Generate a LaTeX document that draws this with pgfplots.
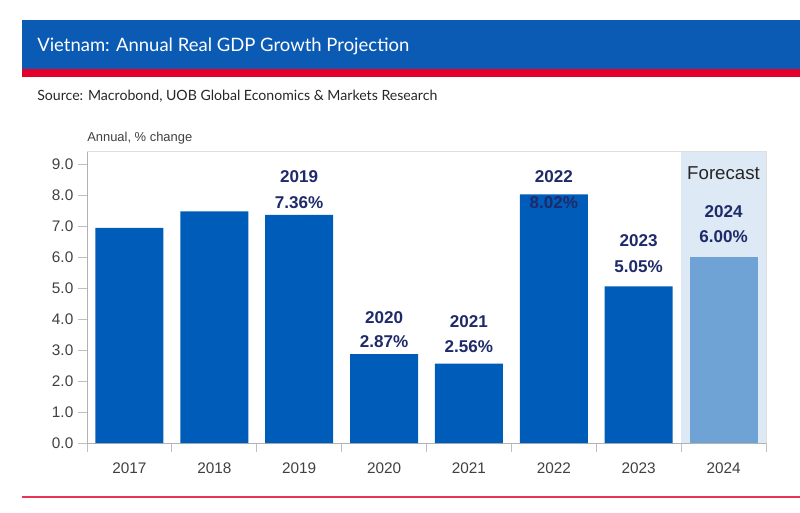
\documentclass[border=0pt]{standalone}
\usepackage{pgfplots}
\pgfplotsset{compat=1.18}
\usepackage{fontspec}
\setmainfont{Liberation Sans}
\newfontfamily\titlefont{Lato}
\definecolor{hdrblue}{HTML}{0B5BB5}
\definecolor{uobred}{HTML}{E4002B}
\definecolor{barblue}{HTML}{005CB9}
\definecolor{lightbar}{HTML}{6FA3D6}
\definecolor{shadeblue}{HTML}{DDE9F5}
\definecolor{navy}{HTML}{1E2A6A}
\definecolor{ticktext}{HTML}{404040}
\begin{document}
\begin{tikzpicture}[x=0.75pt,y=0.75pt]
\path[use as bounding box] (0,0) rectangle (800,512);
% header band
\fill[hdrblue] (22,492) rectangle (800,443);
\fill[uobred] (22,443) rectangle (800,435);
\node[anchor=west,text=white,inner sep=0] at (37,466) {\resizebox{279pt}{!}{\titlefont Vietnam: Annual Real GDP Growth Projection}};
\node[anchor=west,text=black!85,inner sep=0] at (37,416) {\resizebox{300pt}{!}{\titlefont Source: Macrobond, UOB Global Economics \& Markets Research}};
\draw[uobred!80,line width=1.5pt] (22,15) -- (800,15);
\node[anchor=west,inner sep=0,text=ticktext] at (87,374) {\fontsize{9.7}{11}\selectfont Annual, \% change};
\begin{axis}[
  at={(65.25pt,51.75pt)}, anchor=south west,
  scale only axis, width=509.25pt, height=219pt,
  xmin=-0.5, xmax=7.5, ymin=0, ymax=9.42,
  axis x line*=bottom, axis y line*=left,
  axis line style={draw=gray!60},
  tick style={draw=gray!50, line width=0.6pt},
  tick align=outside,
  major tick length=6.75pt,
  ytick={0,1,...,9},
  yticklabel style={/pgf/number format/.cd, fixed, fixed zerofill, precision=1, assume math mode=true},
  xtick={-0.5,0.5,...,7.5},
  xticklabels={},
  extra x ticks={0,1,2,3,4,5,6,7},
  extra x tick labels={2017,2018,2019,2020,2021,2022,2023,2024},
  extra x tick style={major tick length=0pt, xticklabel style={yshift=-11pt}},
  ticklabel style={font=\fontsize{11.5}{13}\selectfont, text=ticktext},
  clip=false,
]
\fill[shadeblue] (axis cs:6.5,0) rectangle (axis cs:7.5,9.42);
\draw[gray!25] (rel axis cs:0,1) -- (rel axis cs:1,1) -- (rel axis cs:1,0);
\addplot[ybar, bar width=51pt, bar shift=0pt, fill=barblue, draw=none]
  coordinates {(0,6.94) (1,7.47) (2,7.36) (3,2.87) (4,2.56) (5,8.02) (6,5.05)};
\addplot[ybar, bar width=51pt, bar shift=0pt, fill=lightbar, draw=none]
  coordinates {(7,6.00)};
\tikzset{lbl/.style={text=navy, font=\bfseries\fontsize{12.8}{14}\selectfont, inner sep=0}}
\node[lbl] at (axis cs:2,8.58) {2019};
\node[lbl] at (axis cs:2,7.74) {7.36\%};
\node[lbl] at (axis cs:3,4.06) {2020};
\node[lbl] at (axis cs:3,3.26) {2.87\%};
\node[lbl] at (axis cs:4,3.90) {2021};
\node[lbl] at (axis cs:4,3.10) {2.56\%};
\node[lbl] at (axis cs:5,8.58) {2022};
\node[lbl] at (axis cs:5,7.77) {8.02\%};
\node[lbl] at (axis cs:6,6.52) {2023};
\node[lbl] at (axis cs:6,5.68) {5.05\%};
\node[lbl] at (axis cs:7,7.45) {2024};
\node[lbl] at (axis cs:7,6.65) {6.00\%};
\node[text=black!85, font=\fontsize{14}{16}\selectfont, inner sep=0] at (axis cs:7,8.71) {Forecast};
\end{axis}
\end{tikzpicture}
\end{document}
